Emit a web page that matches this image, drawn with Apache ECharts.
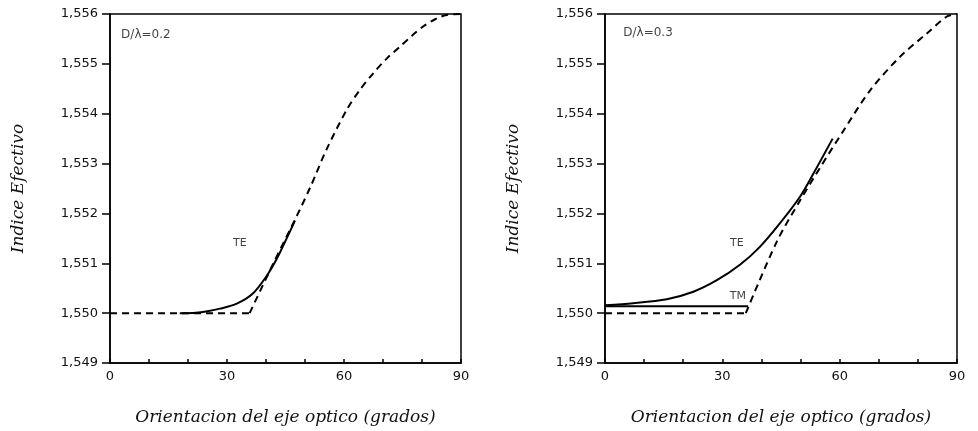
<!DOCTYPE html>
<html>
<head>
<meta charset="utf-8">
<script src="https://cdn.jsdelivr.net/npm/echarts@6/dist/echarts.min.js"></script>
<style>
  html, body { margin: 0; padding: 0; background: #fff; }
  #main { width: 978px; height: 431px; }
</style>
</head>
<body>
<div id="main"></div>
<script>
// ejes
var xTicks = [0, 30, 60, 90];
var yMin = 1.549, yMax = 1.556, yStep = 0.001;

// D/lambda = 0.2
var izqDashX = [0, 35.8, 41.9, 47.9, 51.5, 55.5, 60.7, 64.0, 67.5, 71.0, 74.4, 77.5, 80.3, 83.5, 86.3, 90];
var izqDashY = [1.5500, 1.5500, 1.55100, 1.55195, 1.55255, 1.55328, 1.55408, 1.55447, 1.55481, 1.55511, 1.55535, 1.55557, 1.55575, 1.55590, 1.55598, 1.5560];
var izqTeX = [17.9, 22.0, 25.0, 28.2, 32.5, 36.7, 40.2, 42.7, 45.3, 47.4];
var izqTeY = [1.5500, 1.55001, 1.55004, 1.55009, 1.55019, 1.55040, 1.55075, 1.55108, 1.55150, 1.55185];

// D/lambda = 0.3
var derDashX = [0, 36.0, 43.9, 49.8, 55.0, 60.9, 67.8, 75.4, 82.3, 87.4, 90];
var derDashY = [1.5500, 1.5500, 1.55143, 1.55225, 1.55292, 1.55365, 1.55447, 1.55514, 1.55561, 1.55595, 1.5560];
var derTeX = [0, 7.2, 15.8, 22.6, 28.6, 34.5, 39.6, 44.7, 49.9, 53.3, 58.2];
var derTeY = [1.55016, 1.5502, 1.55028, 1.55043, 1.55066, 1.55097, 1.55133, 1.5518, 1.55234, 1.55280, 1.5535];
var derTmX = [0, 36.6];
var derTmY = [1.55014, 1.55014];

var zip = function(xs, ys){
    var out = [];
    for (var i = 0; i < xs.length; i++) out.push([xs[i], ys[i]]);
    return out;
};

var tituloFont = { fontFamily: 'DejaVu Serif', fontStyle: 'italic', fontSize: 17, color: '#111' };

var mkX = function(idx){
    return {
        type: 'value', gridIndex: idx, min: 0, max: 90, interval: 10,
        name: 'Orientacion del eje optico (grados)',
        nameLocation: 'middle', nameGap: 46,
        nameTextStyle: tituloFont,
        axisLine: { lineStyle: { color: '#000', width: 1.5 } },
        axisTick: { inside: true, length: 4, lineStyle: { color: '#000', width: 1.5 } },
        axisLabel: {
            margin: 7, color: '#111', fontFamily: 'DejaVu Sans', fontSize: 13,
            formatter: function(v){ return xTicks.indexOf(v) >= 0 ? String(v) : ''; }
        },
        splitLine: { show: false }
    };
};

var mkY = function(idx){
    return {
        type: 'value', gridIndex: idx, min: yMin, max: yMax, interval: yStep,
        name: 'Indice Efectivo',
        nameLocation: 'middle', nameGap: 83,
        nameTextStyle: tituloFont,
        axisLine: { lineStyle: { color: '#000', width: 1.5 } },
        axisTick: { length: 8, lineStyle: { color: '#000', width: 1.5 } },
        axisLabel: {
            margin: 12, color: '#111', fontFamily: 'DejaVu Sans', fontSize: 13,
            formatter: function(v){ return v.toFixed(3).replace('.', ','); }
        },
        splitLine: { show: false }
    };
};

var linea = function(idx, datos, tipo){
    return {
        type: 'line', xAxisIndex: idx, yAxisIndex: idx,
        data: datos, showSymbol: false, symbol: 'none',
        smooth: datos.length > 2 ? 0.3 : false,
        lineStyle: { color: '#000', width: 2, type: tipo === 'dash' ? [7, 5] : 'solid' },
        animation: false, z: 3
    };
};

var lbl = function(idx, pts, size){
    return {
        type: 'scatter', xAxisIndex: idx, yAxisIndex: idx,
        symbolSize: 0, animation: false, silent: true,
        data: pts.map(function(p){ return { value: [p[0], p[1]], name: p[2] }; }),
        label: {
            show: true, position: 'inside', formatter: '{b}',
            color: '#111', fontFamily: 'DejaVu Sans', fontSize: size
        }
    };
};

var izqDash = zip(izqDashX, izqDashY);
var derDash = zip(derDashX, derDashY);

var myChart = echarts.init(document.getElementById('main'));
var option = {
    backgroundColor: '#fff',
    grid: [
        { left: 110, right: 517, top: 14, bottom: 67, show: true, borderColor: '#000', borderWidth: 1.5 },
        { left: 605, right: 21, top: 14, bottom: 68, show: true, borderColor: '#000', borderWidth: 1.5 }
    ],
    xAxis: [mkX(0), mkX(1)],
    yAxis: [mkY(0), mkY(1)],
    series: [
        // tramo plano y tramo curvo por separado (esquina en ~36 grados)
        linea(0, izqDash.slice(0, 2), 'dash'),
        linea(0, izqDash.slice(1), 'dash'),
        linea(0, zip(izqTeX, izqTeY), 'solid'),
        linea(1, derDash.slice(0, 2), 'dash'),
        linea(1, derDash.slice(1), 'dash'),
        linea(1, zip(derTeX, derTeY), 'solid'),
        linea(1, zip(derTmX, derTmY), 'solid'),
        lbl(0, [[9.2, 1.55558, 'D/λ=0.2']], 12),
        lbl(0, [[33.3, 1.55141, 'TE']], 11),
        lbl(1, [[11.0, 1.55562, 'D/λ=0.3']], 12),
        lbl(1, [[33.7, 1.5514, 'TE'], [34.0, 1.55034, 'TM']], 11)
    ]
};
myChart.setOption(option);
</script>
</body>
</html>
